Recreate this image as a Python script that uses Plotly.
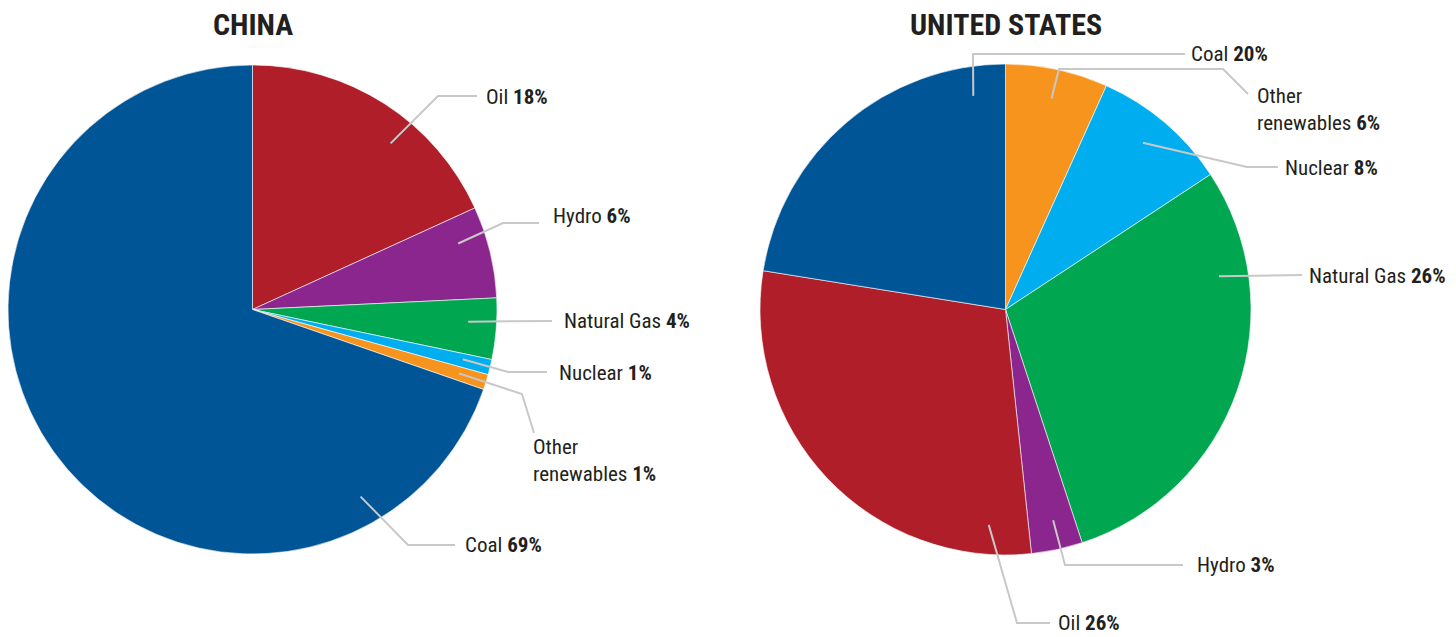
import math
import plotly.graph_objects as go

# ---------------- data ----------------
china_labels = ["Oil", "Hydro", "Natural Gas", "Nuclear", "Other renewables", "Coal"]
china_values = [18, 6, 4, 1, 1, 69]
us_labels = ["Other renewables", "Nuclear", "Natural Gas", "Hydro", "Oil", "Coal"]
us_values = [6, 8, 26, 3, 26, 20]

colors = {
    "Oil": "#b01e2a",
    "Hydro": "#8b268e",
    "Natural Gas": "#00a650",
    "Nuclear": "#00aeef",
    "Other renewables": "#f7941e",
    "Coal": "#005596",
}

# ---------------- layout params (page pixels) ----------------
OFF = 8  # page body margin
W, H = 1456 - OFF, 637 - OFF
FONT = "Liberation Sans Narrow, Roboto Condensed, DejaVu Sans Condensed, Arial Narrow, sans-serif"
TXT = "#231f20"
LINE = "#c8c8c8"
R = 245.5
china_c = (252.5, 309.5)
us_c = (1005.5, 309.5)
RHO = 0.88

# per label: position within slice (t), bend points, label anchor (x, y), two-line?
china_leaders = {
    "Oil": (0.607, [(438, 96), (477, 96)], (484, 97), False),
    "Hydro": (0.31, [(503, 223), (539, 223)], (551, 216), False),
    "Natural Gas": (0.41, [(552, 321)], (562, 321), False),
    "Nuclear": (0.41, [(508, 372), (547, 372)], (557, 373), False),
    "Other renewables": (0.48, [(522, 394), (534, 433)], (531, 460), True),
    "Coal": (0.163, [(408, 545), (455, 545)], (463, 545), False),
}
us_leaders = {
    "Coal": (0.894, [(973, 54), (1185, 54)], (1189, 54), False),
    "Other renewables": (0.507, [(1059, 69), (1223, 69), (1248, 94)], (1255, 109), True),
    "Nuclear": (0.47, [(1247, 167), (1278, 167)], (1283, 168), False),
    "Natural Gas": (0.233, [(1302, 275)], (1307, 276), False),
    "Hydro": (0.45, [(1065, 565), (1183, 565)], (1195, 565), False),
    "Oil": (0.10, [(1017, 623), (1050, 623)], (1056, 623), False),
}


def px(x):
    return (x - OFF) / W


def py(y):
    return 1 - (y - OFF) / H


def domain(c):
    half = min(R, c[0] - OFF)
    return dict(x=[px(c[0] - half), px(c[0] + half)], y=[py(c[1] + R), py(c[1] - R)])


fig = go.Figure()
for labels, values, c in [(china_labels, china_values, china_c), (us_labels, us_values, us_c)]:
    fig.add_trace(go.Pie(
        labels=labels, values=values, sort=False, direction="clockwise", rotation=0,
        marker=dict(colors=[colors[l] for l in labels], line=dict(color="white", width=0.6)),
        textinfo="none", hoverinfo="label+percent", domain=domain(c), showlegend=False,
    ))

shapes = []
annotations = []
for labels, values, c, leaders in [(china_labels, china_values, china_c, china_leaders),
                                   (us_labels, us_values, us_c, us_leaders)]:
    total = sum(values)
    cum = 0
    for lab, v in zip(labels, values):
        t, pts, (tx, ty), two = leaders[lab]
        theta = 2 * math.pi * (cum + t * v) / total
        sx = c[0] + RHO * R * math.sin(theta)
        sy = c[1] - RHO * R * math.cos(theta)
        cum += v
        path = "M %f,%f" % (px(sx), py(sy)) + "".join(" L %f,%f" % (px(a), py(b)) for a, b in pts)
        shapes.append(dict(type="path", path=path, xref="paper", yref="paper",
                           line=dict(color=LINE, width=2)))
        name = "Other<br>renewables" if two else lab
        annotations.append(dict(
            x=px(tx), y=py(ty), xref="paper", yref="paper", xanchor="left", yanchor="middle",
            align="left", showarrow=False, text="%s <b>%d%%</b>" % (name, v),
            font=dict(family=FONT, size=21, color=TXT),
        ))

for title, c in [("CHINA", china_c), ("UNITED STATES", us_c)]:
    annotations.append(dict(
        x=px(c[0]), y=py(24), xref="paper", yref="paper", xanchor="center", yanchor="middle",
        showarrow=False, text="<b>%s</b>" % title, font=dict(family=FONT, size=30, color=TXT),
    ))

fig.update_layout(
    width=W, height=H, margin=dict(l=0, r=0, t=0, b=0),
    paper_bgcolor="white", plot_bgcolor="white",
    shapes=shapes, annotations=annotations,
)
fig.write_html("out.html")
